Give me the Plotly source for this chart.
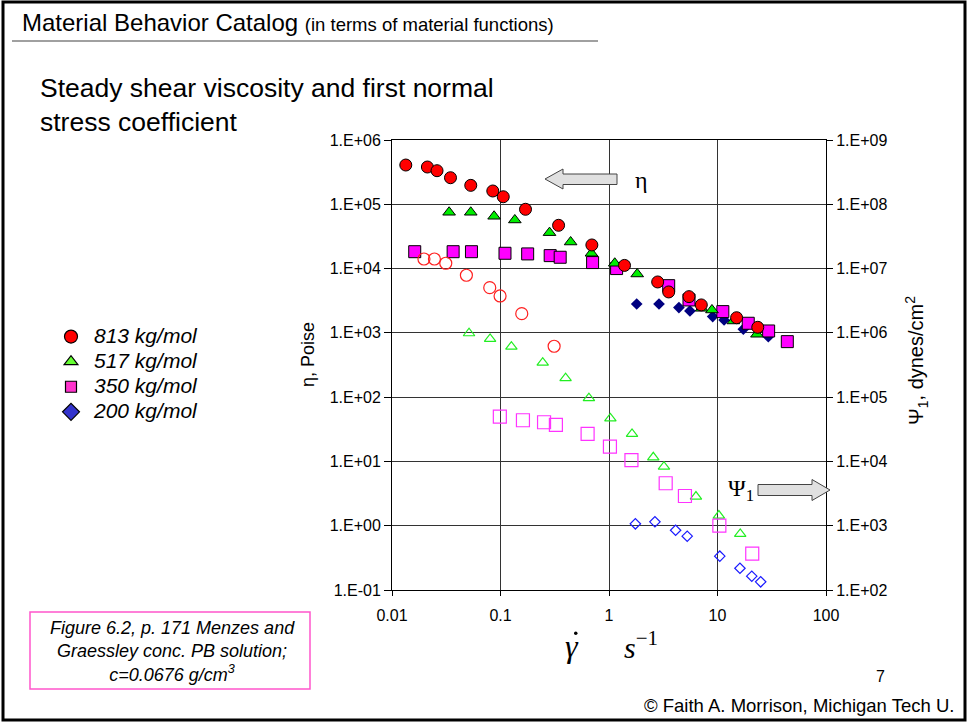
import plotly.graph_objects as go

# ---------------- data ----------------
# shear rate (1/s) and viscosity eta (Poise) -- filled symbols, left axis
rate_813_eta = [0.0134, 0.0212, 0.026, 0.0346, 0.0532, 0.0849, 0.106, 0.170, 0.343, 0.695,
                1.39, 2.81, 3.55, 5.46, 7.09, 15.0, 23.5]
eta_813 = [4.08e5, 3.80e5, 3.33e5, 2.59e5, 1.97e5, 1.61e5, 1.31e5, 8.36e4, 4.71e4, 2.33e4,
           1.12e4, 6.19e3, 4.33e3, 3.66e3, 2.72e3, 1.72e3, 1.22e3]

rate_517_eta = [0.0336, 0.0532, 0.0873, 0.1355, 0.283, 0.443, 0.689, 1.13, 1.82, 7.14, 8.89, 14.0, 23.1]
eta_517 = [7.51e4, 7.51e4, 6.51e4, 5.70e4, 3.62e4, 2.59e4, 1.73e4, 1.21e4, 8.24e3, 2.41e3, 2.27e3, 1.53e3, 951]

rate_350_eta = [0.0162, 0.0366, 0.0540, 0.110, 0.178, 0.287, 0.355, 0.706, 1.175, 3.55, 5.46,
                11.2, 19.2, 29.6, 44.0]
eta_350 = [1.83e4, 1.83e4, 1.83e4, 1.73e4, 1.69e4, 1.59e4, 1.50e4, 1.24e4, 1.00e4, 5.42e3, 3.25e3,
           2.14e3, 1.41e3, 1.07e3, 730]

rate_200_eta = [1.80, 2.89, 4.41, 5.57, 9.03, 11.5, 17.3, 29.4]
eta_200 = [2.81e3, 2.81e3, 2.47e3, 2.19e3, 1.79e3, 1.59e3, 1.14e3, 873]

# shear rate (1/s) and first normal stress coefficient Psi1 (dynes/cm^2 axis) -- open symbols, right axis
rate_813_psi = [0.0197, 0.0246, 0.0313, 0.0485, 0.0796, 0.0991, 0.157, 0.312]
psi_813 = [1.41e7, 1.41e7, 1.21e7, 7.87e6, 5.05e6, 3.75e6, 1.99e6, 6.19e5]

rate_517_psi = [0.0513, 0.0802, 0.126, 0.245, 0.398, 0.653, 1.03, 1.63, 2.56, 3.21, 6.33, 10.3, 16.2]
psi_517 = [9.86e5, 8.04e5, 6.10e5, 3.44e5, 1.97e5, 9.64e4, 4.67e4, 2.68e4, 1.16e4, 8.30e3, 2.84e3, 1.44e3, 746]

rate_350_psi = [0.0986, 0.161, 0.252, 0.324, 0.635, 1.02, 1.61, 3.33, 5.01, 10.4, 20.9]
psi_350 = [4.97e4, 4.37e4, 4.07e4, 3.70e4, 2.68e4, 1.70e4, 1.05e4, 4.58e3, 2.90e3, 1.00e3, 368]

rate_200_psi = [1.75, 2.65, 4.11, 5.26, 10.5, 16.1, 20.7, 25.0]
psi_200 = [1.07e3, 1.15e3, 851, 687, 336, 218, 164, 134]

series_names = ["813 kg/mol", "517 kg/mol", "350 kg/mol", "200 kg/mol"]

x_tickvals = [0.01, 0.1, 1, 10, 100]
x_ticktext = ["0.01", "0.1", "1", "10", "100"]
left_tickvals = [1e-1, 1e0, 1e1, 1e2, 1e3, 1e4, 1e5, 1e6]
left_ticktext = ["1.E-01", "1.E+00", "1.E+01", "1.E+02", "1.E+03", "1.E+04", "1.E+05", "1.E+06"]
right_tickvals = [1e2, 1e3, 1e4, 1e5, 1e6, 1e7, 1e8, 1e9]
right_ticktext = ["1.E+02", "1.E+03", "1.E+04", "1.E+05", "1.E+06", "1.E+07", "1.E+08", "1.E+09"]

# ---------------- layout helpers ----------------
W, H = 968, 723
L, R, T, B = 392, 826, 140, 590
def xp(px):
    return (px - L) / (R - L)
def yp(py):
    return (B - py) / (B - T)

SANS = "Liberation Sans, Arial, sans-serif"
SERIF = "Liberation Serif, Times New Roman, serif"

fig = go.Figure()

def filled(x, y, sym, color, size, lw=1, lc="black"):
    fig.add_trace(go.Scatter(x=x, y=y, mode="markers", showlegend=False, hoverinfo="skip",
                             marker=dict(symbol=sym, color=color, size=size,
                                         line=dict(color=lc, width=lw))))

def opened(x, y, sym, color, size):
    fig.add_trace(go.Scatter(x=x, y=y, mode="markers", showlegend=False, hoverinfo="skip", yaxis="y2",
                             marker=dict(symbol=sym + "-open", color=color, size=size,
                                         line=dict(color=color, width=1.2))))

# open symbols (Psi1) first, filled (eta) on top
opened(rate_813_psi, psi_813, "circle", "#ff2020", 12)
opened(rate_517_psi, psi_517, "triangle-up", "#22ee22", 10)
opened(rate_350_psi, psi_350, "square", "#ff33ff", 13)
opened(rate_200_psi, psi_200, "diamond", "#1a1aff", 8)

filled(rate_200_eta, eta_200, "diamond", "#000080", 9, lw=0)
filled(rate_350_eta, eta_350, "square", "#ff00ff", 12)
filled(rate_517_eta, eta_517, "triangle-up", "#00ee00", 11)
filled(rate_813_eta, eta_813, "circle", "#ff0000", 12)

# legend entries
leg_styles = [("circle", "#ff0000", 13), ("triangle-up", "#66ff33", 12),
              ("square", "#ff33cc", 11), ("diamond", "#3333cc", 13)]
for name, (sym, col, sz) in zip(series_names, leg_styles):
    fig.add_trace(go.Scatter(x=[None], y=[None], mode="markers",
                             name='<i><span style="font-size:21px">' + name + '</span></i>',
                             marker=dict(symbol=sym, color=col, size=sz, line=dict(color="black", width=1.2))))

grid = "#333333"
fig.update_layout(
    width=W, height=H,
    margin=dict(l=L, r=W - R, t=T, b=H - B),
    paper_bgcolor="white", plot_bgcolor="white",
    font=dict(family=SANS, color="black", size=16),
    showlegend=True,
    legend=dict(x=xp(48), y=yp(319), xanchor="left", yanchor="top",
                font=dict(family=SANS, size=17, color="black"),
                bgcolor="rgba(0,0,0,0)", itemsizing="trace", tracegroupgap=0, itemwidth=36),
    xaxis=dict(type="log", range=[-2, 2], tickvals=x_tickvals, ticktext=x_ticktext,
               showgrid=True, gridcolor=grid, gridwidth=1,
               showline=True, linecolor="black", linewidth=1, mirror=True,
               ticks="outside", ticklen=5, tickcolor="black", ticklabelstandoff=6,
               tickfont=dict(size=16, family=SANS), zeroline=False),
    yaxis=dict(type="log", range=[-1, 6], tickvals=left_tickvals, ticktext=left_ticktext,
               showgrid=True, gridcolor=grid, gridwidth=1,
               showline=True, linecolor="black", linewidth=1,
               ticks="outside", ticklen=7, tickcolor="black",
               tickfont=dict(size=16, family=SANS), zeroline=False),
    yaxis2=dict(type="log", range=[2, 9], tickvals=right_tickvals, ticktext=right_ticktext,
                overlaying="y", side="right", showgrid=False,
                showline=True, linecolor="black", linewidth=1,
                ticks="outside", ticklen=6, tickcolor="black",
                tickfont=dict(size=16, family=SANS), zeroline=False),
)

ann = []
def add_text(px, py, text, size, family=SANS, xanchor="left", yanchor="middle", angle=0, align="center"):
    ann.append(dict(x=xp(px), y=yp(py), xref="paper", yref="paper", text=text, showarrow=False,
                    xanchor=xanchor, yanchor=yanchor, textangle=angle, align=align,
                    font=dict(size=size, family=family, color="black")))

add_text(20, 22, 'Material Behavior Catalog <span style="font-size:18.5px">(in terms of material functions)</span>', 24)
add_text(38, 105, "Steady shear viscosity and first normal<br>stress coefficient", 26.5, align="left")
add_text(308, 355, "η, Poise", 18, angle=-90, xanchor="center")
add_text(916, 361, "Ψ<sub>1</sub>, dynes/cm<sup>2</sup>", 20, angle=-90, xanchor="center")
add_text(572, 646, "<i>γ</i>", 32, family=SERIF, xanchor="center")
add_text(641, 645, "<i>s</i><sup>−1</sup>", 30, family=SERIF, xanchor="center")
add_text(641, 180, "η", 24, family=SERIF, xanchor="center")
add_text(741, 490, "Ψ<sub>1</sub>", 24, family=SERIF, xanchor="center")
add_text(172, 651, "<i>Figure 6.2, p. 171 Menzes and<br>Graessley conc. PB solution;<br>c=0.0676 g/cm<sup>3</sup></i>",
         18, xanchor="center")
add_text(880, 676, "7", 16, xanchor="center")
add_text(956, 705, "© Faith A. Morrison, Michigan Tech U.", 18.5, xanchor="right")
fig.update_layout(annotations=ann)

def path(points):
    s = "M " + " L ".join(f"{xp(a)},{yp(b)}" for a, b in points) + " Z"
    return s

shapes = [
    # slide border
    dict(type="rect", xref="paper", yref="paper", x0=xp(3), x1=xp(965), y0=yp(2), y1=yp(720),
         line=dict(color="black", width=3), layer="below"),
    # title underline
    dict(type="line", xref="paper", yref="paper", x0=xp(12), x1=xp(598), y0=yp(41), y1=yp(41),
         line=dict(color="#a0a0a0", width=2)),
    # caption box
    dict(type="rect", xref="paper", yref="paper", x0=xp(30), x1=xp(310), y0=yp(612), y1=yp(689),
         line=dict(color="#ff55cc", width=1.5)),
    # dot of gamma-dot
    dict(type="circle", xref="paper", yref="paper", x0=xp(574), x1=xp(577.5), y0=yp(631.5), y1=yp(635),
         fillcolor="black", line=dict(color="black", width=0)),
    # eta arrow (pointing left)
    dict(type="path", xref="paper", yref="paper",
         path=path([(545, 179), (563, 169), (563, 174), (617, 174), (617, 184.5), (563, 184.5), (563, 189)]),
         fillcolor="#e0e0e0", line=dict(color="#444444", width=1)),
    # Psi1 arrow (pointing right)
    dict(type="path", xref="paper", yref="paper",
         path=path([(830, 490), (812, 479.5), (812, 484.5), (758, 484.5), (758, 495.5), (812, 495.5), (812, 500.5)]),
         fillcolor="#e0e0e0", line=dict(color="#444444", width=1)),
]
fig.update_layout(shapes=shapes)

fig.write_html("out.html")
